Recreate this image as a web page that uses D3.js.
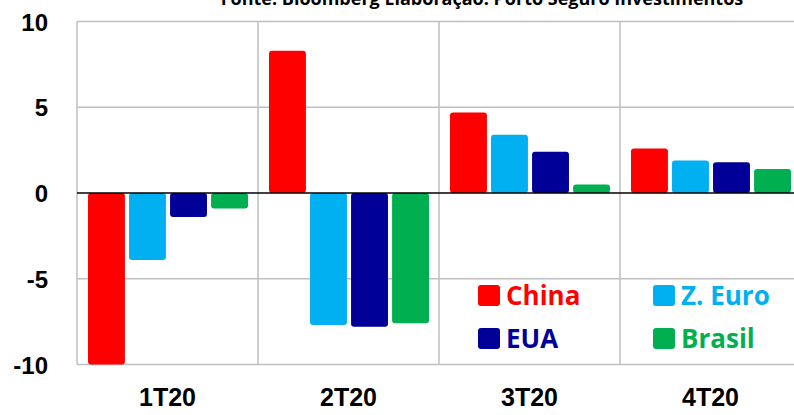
<!DOCTYPE html>
<html><head><meta charset="utf-8">
<script src="https://cdn.jsdelivr.net/npm/d3@7"></script>
<style>body{margin:0;background:#fff}svg{display:block}</style>
</head><body>
<svg id="c" width="794" height="415"></svg>
<script>
const categories = ["1T20","2T20","3T20","4T20"];
const seriesNames = ["China","Z. Euro","EUA","Brasil"];
const china  = [-10.0, 8.3, 4.7, 2.6];
const zeuro  = [-3.9, -7.7, 3.4, 1.9];
const eua    = [-1.4, -7.8, 2.4, 1.8];
const brasil = [-0.9, -7.6, 0.5, 1.4];
const yTicks = [10, 5, 0, -5, -10];
const colors = ["#ff0000","#00b0f0","#000099","#00b050"];
const title = "Fonte: Bloomberg Elaboração: Porto Seguro Investimentos";

const values = [china, zeuro, eua, brasil];
const svg = d3.select("#c");
const L = 77, R = 801, T = 21.5, B = 364.5;
const x0 = d3.scaleBand().domain(categories).range([L, R]).paddingInner(0).paddingOuter(0);
const x1 = d3.scaleBand().domain(seriesNames).range([11, x0.bandwidth() - 10]).paddingInner(0.1).paddingOuter(0);
const y = d3.scaleLinear().domain([-10, 10]).range([B, T]);

// title (cut at top, as in the reference)
svg.append("text").attr("x", 482).attr("y", 4.5).attr("text-anchor", "middle")
  .attr("font-family", "Open Sans, sans-serif").attr("font-weight", "bold")
  .attr("font-size", 18).attr("fill", "#000").text(title);

// grid
const g = svg.append("g");
yTicks.filter(t => t !== 0).forEach(t => {
  g.append("line").attr("x1", L).attr("x2", R).attr("y1", y(t)).attr("y2", y(t))
    .attr("stroke", "#bfbfbf").attr("stroke-width", 1.5);
});
categories.forEach(c => {
  g.append("line").attr("x1", x0(c)).attr("x2", x0(c)).attr("y1", T).attr("y2", B)
    .attr("stroke", "#bfbfbf").attr("stroke-width", 1.5);
});

// bars
const rows = [];
categories.forEach((c, i) => seriesNames.forEach((s, j) => rows.push({c, s, j, v: values[j][i]})));
svg.append("g").selectAll("rect").data(rows).join("rect")
  .attr("x", d => x0(d.c) + x1(d.s))
  .attr("width", x1.bandwidth())
  .attr("y", d => Math.min(y(d.v), y(0)))
  .attr("height", d => Math.abs(y(d.v) - y(0)))
  .attr("rx", 3).attr("fill", d => colors[d.j]);

// zero line
svg.append("line").attr("x1", L).attr("x2", R).attr("y1", y(0)).attr("y2", y(0))
  .attr("stroke", "#000").attr("stroke-width", 1.5);

// y axis labels
const yAxis = d3.axisLeft(y).tickValues(yTicks).tickSize(0).tickPadding(0).tickFormat(d => String(d));
const ya = svg.append("g").attr("transform", `translate(48,0)`).call(yAxis);
ya.select(".domain").remove();
ya.selectAll("text").attr("font-family", "Liberation Sans, Arial, sans-serif")
  .attr("font-weight", "bold").attr("font-size", 24).attr("fill", "#000").attr("dy", "0.36em");

// x axis labels
const xAxis = d3.axisBottom(x0).tickSize(0).tickPadding(0);
const xa = svg.append("g").attr("transform", `translate(0,397)`).call(xAxis);
xa.select(".domain").remove();
xa.selectAll("text").attr("font-family", "Liberation Sans, Arial, sans-serif")
  .attr("font-weight", "bold").attr("font-size", 25).attr("fill", "#000").attr("dy", "0.36em");

// legend
const legPos = [[478, 285], [653, 285], [478, 328], [653, 328]];
seriesNames.forEach((s, j) => {
  const [lx, ly] = legPos[j];
  svg.append("rect").attr("x", lx).attr("y", ly).attr("width", 22).attr("height", 21)
    .attr("rx", 3).attr("fill", colors[j]);
  svg.append("text").attr("x", lx + 28).attr("y", ly + 10.5).attr("dy", "0.36em")
    .attr("font-family", "Open Sans, sans-serif").attr("font-weight", "bold")
    .attr("font-size", 26).attr("fill", colors[j]).text(s);
});
</script>
</body></html>
